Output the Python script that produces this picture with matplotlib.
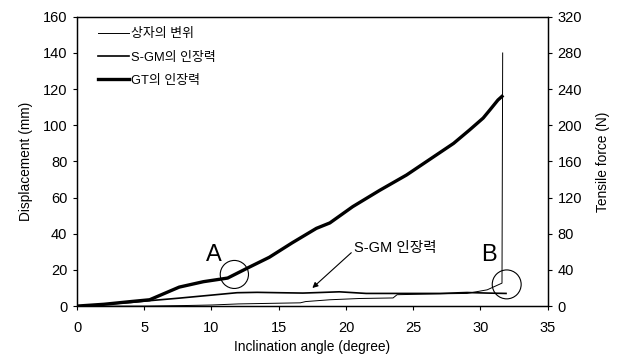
# 경사각에 따른 상자 변위 및 인장력
import numpy as np
import matplotlib
matplotlib.use('Agg')
import matplotlib.pyplot as plt
from matplotlib.patches import Ellipse

plt.rcParams['font.family'] = ['Liberation Sans', 'Noto Sans CJK KR']

# 상자의 변위 (mm, 왼쪽 축)
box_angle = [0, 5, 8, 10, 12, 15, 16.6, 17, 18.8, 21, 23.5, 23.8, 27, 29, 30.5, 31.6, 31.65]
box_disp = [0, 0, 0.3, 0.6, 1.2, 1.6, 1.8, 2.5, 3.5, 4.2, 4.5, 6.3, 6.8, 7.0, 9.0, 12.7, 140]

# S-GM의 인장력 (N, 오른쪽 축)
sgm_angle = [0, 2, 4, 5.4, 7.6, 9.9, 11.9, 13.4, 15, 16.8, 18, 19.5, 21.5, 23, 25.3, 27, 29, 30.5, 31.9]
sgm_force = [0, 2, 4, 6, 8.8, 12, 14.8, 15.2, 14.8, 14.4, 15, 15.8, 14, 14, 14, 14, 15, 14.4, 14]

# GT의 인장력 (N, 오른쪽 축)
gt_angle = [0, 2, 4, 5.4, 6.5, 7.6, 9.4, 11.2, 12.8, 14.3, 16, 17.8, 18.8, 20.5,
            22.5, 24.5, 26.2, 28, 29.2, 30.2, 30.7, 31.3, 31.6]
gt_force = [0, 2, 5, 7, 14, 21, 27, 31, 43, 54, 70, 86, 92, 110,
            128, 145, 162, 180, 195, 208, 217, 228, 232]

fig = plt.figure(figsize=(6.21, 3.58), dpi=100)
ax = fig.add_axes([0.124, 0.145, 0.758, 0.808])
ax2 = ax.twinx()

l1, = ax.plot(box_angle, box_disp, color='black', lw=0.7)
l2, = ax2.plot(sgm_angle, sgm_force, color='black', lw=1.2)
l3, = ax2.plot(gt_angle, gt_force, color='black', lw=2.4)

ax.set_xlim(0, 35)
ax.set_ylim(0, 160)
ax2.set_ylim(0, 320)
ax.set_xticks(np.arange(0, 36, 5))
ax.set_yticks(np.arange(0, 161, 20))
ax2.set_yticks(np.arange(0, 321, 40))

for a in (ax, ax2):
    a.tick_params(direction='out', length=3, width=0.8, labelsize=10.5, pad=4)
    for s in a.spines.values():
        s.set_linewidth(0.9)
ax.tick_params(axis='x', pad=8)

ax.set_xlabel('Inclination angle (degree)', fontsize=9.9, labelpad=3)
ax.set_ylabel('Displacement (mm)', fontsize=9.9, labelpad=7)
ax2.set_ylabel('Tensile force (N)', fontsize=9.9, labelpad=10)

ax.legend([l1, l2, l3], ['상자의 변위', 'S-GM의 인장력', 'GT의 인장력'],
          loc='upper left', bbox_to_anchor=(0.02, 1.0), frameon=False,
          fontsize=9.3, handlelength=2.4, handletextpad=0.15, labelspacing=0.85)

# 표시 A, B
ax.add_patch(Ellipse((11.7, 17.5), 2.1, 15.5, fill=False, lw=0.8, color='black'))
ax.add_patch(Ellipse((31.95, 12), 2.15, 16, fill=False, lw=0.8, color='black'))
ax.text(10.2, 28, 'A', fontsize=17, ha='center', va='center')
ax.text(30.6, 28, 'B', fontsize=17, ha='center', va='center')

ax.annotate('S-GM 인장력', xy=(17.5, 10), xytext=(20.6, 32),
            fontsize=10.5, va='center', ha='left',
            arrowprops=dict(arrowstyle='-|>', color='black', lw=0.8,
                            mutation_scale=8, shrinkA=0, shrinkB=0,
                            relpos=(-0.03, 0.2)))

fig.savefig('out.png', dpi=100)
